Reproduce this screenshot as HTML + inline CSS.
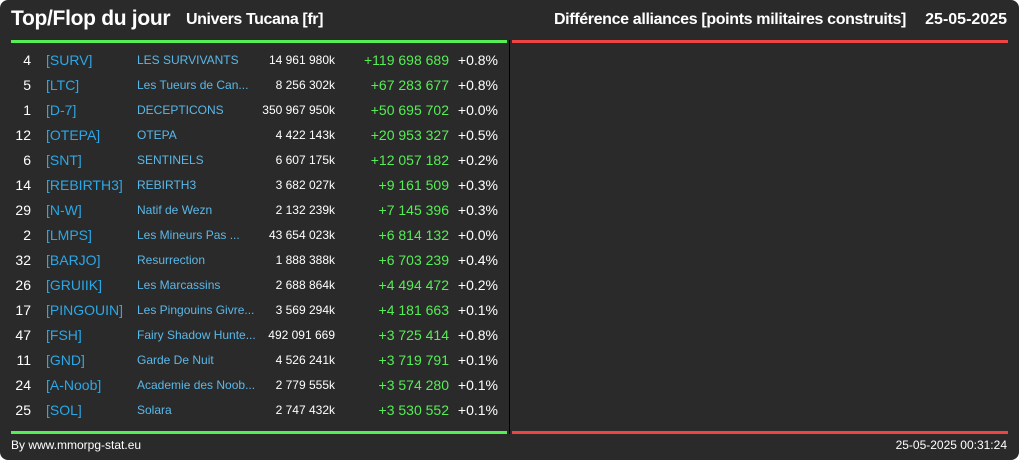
<!DOCTYPE html>
<html><head><meta charset="utf-8"><style>
body{margin:0;background:#fff;width:1019px;height:460px;overflow:hidden;font-family:"Liberation Sans",sans-serif}
#card{position:absolute;left:0;top:0;width:1019px;height:460px;background:#2a2a2a;border-radius:8px}
.abs{position:absolute;white-space:nowrap}
.row{position:absolute;left:0;width:509px;height:25px;line-height:25px}
.row span{position:absolute;white-space:nowrap}
</style></head><body>
<div id="card">
<div class="abs" style="left:11px;top:7px;font-size:21px;font-weight:bold;color:#fff;letter-spacing:-0.3px">Top/Flop du jour</div>
<div class="abs" style="left:186px;top:11px;font-size:16px;font-weight:bold;color:#fff;letter-spacing:-0.4px">Univers Tucana [fr]</div>
<div class="abs" style="right:113px;top:11px;font-size:16px;font-weight:bold;color:#fff;letter-spacing:-0.35px">Différence alliances [points militaires construits]</div>
<div class="abs" style="right:12px;top:11px;font-size:16px;font-weight:bold;color:#fff">25-05-2025</div>
<div class="abs" style="left:11px;top:40px;width:496px;height:3px;background:#55ee55"></div>
<div class="abs" style="left:512px;top:40px;width:496px;height:3px;background:#ee4444"></div>
<div class="abs" style="left:11px;top:431px;width:496px;height:3px;background:#55ee55"></div>
<div class="abs" style="left:512px;top:431px;width:496px;height:3px;background:#ee4444"></div>
<div class="abs" style="left:509px;top:40px;width:1px;height:394px;background:#000"></div>
<div id="rows"></div>
<div class="abs" style="left:11px;top:438px;font-size:12px;color:#fff">By www.mmorpg-stat.eu</div>
<div class="abs" style="right:12px;top:438px;font-size:12px;color:#fff">25-05-2025 00:31:24</div>
</div>
<script>
const ranks=[4,5,1,12,6,14,29,2,32,26,17,47,11,24,25];
const tags=["[SURV]","[LTC]","[D-7]","[OTEPA]","[SNT]","[REBIRTH3]","[N-W]","[LMPS]","[BARJO]","[GRUIIK]","[PINGOUIN]","[FSH]","[GND]","[A-Noob]","[SOL]"];
const names=["LES SURVIVANTS","Les Tueurs de Can...","DECEPTICONS","OTEPA","SENTINELS","REBIRTH3","Natif de Wezn","Les Mineurs Pas ...","Resurrection","Les Marcassins","Les Pingouins Givre...","Fairy Shadow Hunte...","Garde De Nuit","Academie des Noob...","Solara"];
const totals=["14 961 980k","8 256 302k","350 967 950k","4 422 143k","6 607 175k","3 682 027k","2 132 239k","43 654 023k","1 888 388k","2 688 864k","3 569 294k","492 091 669","4 526 241k","2 779 555k","2 747 432k"];
const diffs=["+119 698 689","+67 283 677","+50 695 702","+20 953 327","+12 057 182","+9 161 509","+7 145 396","+6 814 132","+6 703 239","+4 494 472","+4 181 663","+3 725 414","+3 719 791","+3 574 280","+3 530 552"];
const pcts=["+0.8%","+0.8%","+0.0%","+0.5%","+0.2%","+0.3%","+0.3%","+0.0%","+0.4%","+0.2%","+0.1%","+0.8%","+0.1%","+0.1%","+0.1%"];
const host=document.getElementById('rows');
ranks.forEach((r,i)=>{
  const row=document.createElement('div');
  row.className='row';
  row.style.top=(48+i*25)+'px';
  
  
  row.innerHTML=
   `<span style="right:478px;font-size:14px;color:#fff">${r}</span>`+
   `<span style="left:46px;font-size:14px;color:#2aa8e8">${tags[i]}</span>`+
   `<span style="left:137px;font-size:12px;color:#5ab8e8">${names[i]}</span>`+
   `<span style="right:174px;font-size:12px;color:#fff">${totals[i]}</span>`+
   `<span style="right:60px;font-size:14px;color:#55ee55">${diffs[i]}</span>`+
   `<span style="right:11px;font-size:14px;color:#fff">${pcts[i]}</span>`;
  host.appendChild(row);
});
</script>
</body></html>
